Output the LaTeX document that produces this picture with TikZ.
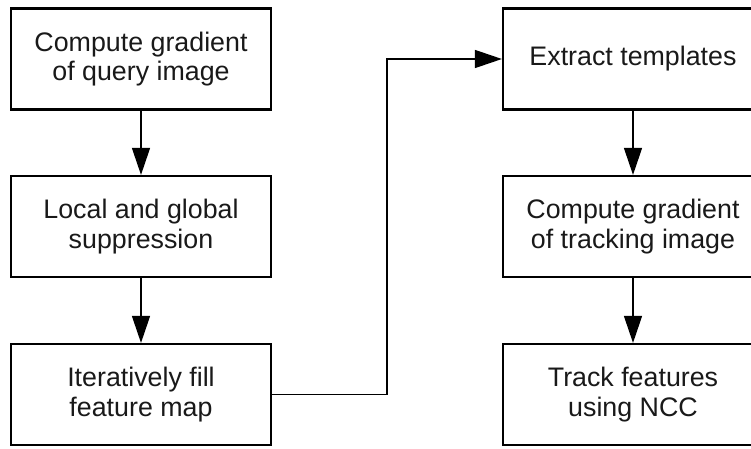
\documentclass[tikz,border=0pt]{standalone}
\usepackage{fontspec}
\setmainfont{Liberation Sans}
\usetikzlibrary{arrows.meta}
\begin{document}
\begin{tikzpicture}[x=1pt,y=1pt,
  stepbox/.style={draw=black, line width=2.2pt, minimum height=101pt, minimum width=260pt,
    align=center, inner sep=0pt, font=\fontsize{26.8}{29.5}\selectfont, text=black!90},
  arr/.style={line width=1.4pt, -{Triangle[length=27pt,width=18pt]}}]
\clip (0,0) rectangle (751,448);
\useasboundingbox (0,0) rectangle (751,448);
\node[stepbox] (b1) at (141,389) {Compute gradient\\of query image};
\node[stepbox] (b2) at (141,221.5) {Local and global\\suppression};
\node[stepbox] (b3) at (141,53.5) {Iteratively fill\\feature map};
\node[stepbox] (r1) at (633,389) {Extract templates};
\node[stepbox] (r2) at (633,221.5) {Compute gradient\\of tracking image};
\node[stepbox] (r3) at (633,53.5) {Track features\\using NCC};
\coordinate (jx) at (387,200);
\draw[arr] (b1) -- (b2);
\draw[arr] (b2) -- (b3);
\draw[arr] (b3.east) -- (b3.east -| jx) |- (r1.west);
\draw[arr] (r1) -- (r2);
\draw[arr] (r2) -- (r3);
\end{tikzpicture}
\end{document}
